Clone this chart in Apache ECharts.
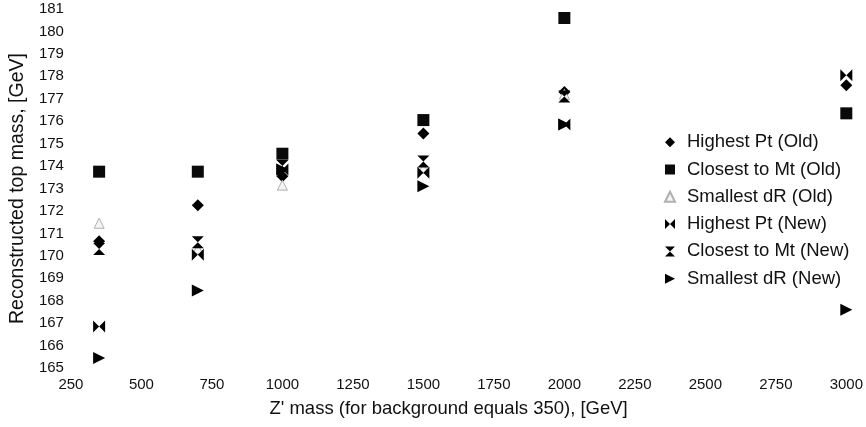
<!DOCTYPE html>
<html>
<head>
<meta charset="utf-8">
<script src="https://cdn.jsdelivr.net/npm/echarts@6/dist/echarts.min.js"></script>
<style>
html,body{margin:0;padding:0;background:#fff;}
#chart{width:866px;height:427px;}
</style>
</head>
<body>
<div id="chart"></div>
<script>
// Z' mass values (x)
var zMass = [350, 700, 1000, 1500, 2000, 3000];
// Reconstructed top mass per method (null = not visible in the picture)
var highestPtOld   = [170.65, 172.25, 173.55, 175.45, 177.3, 177.6];
var closestMtOld   = [173.75, 173.75, 174.55, 176.05, 180.6, 176.35];
var smallestDROld  = [171.45, 170.3, 173.15, 173.9, 177.2, null];
var highestPtNew   = [166.85, 170.05, 173.85, 173.7, 175.85, 178.05];
var closestMtNew   = [170.3, 170.6, 174.0, 174.2, 177.1, null];
var smallestDRNew  = [165.45, 168.45, 173.85, 173.1, 175.85, 167.6];

var seriesNames = ['Highest Pt (Old)', 'Closest to Mt (Old)', 'Smallest dR (Old)',
                   'Highest Pt (New)', 'Closest to Mt (New)', 'Smallest dR (New)'];

function pairs(arr){
  var out = [];
  zMass.forEach(function(x,i){ if (arr[i] !== null) out.push([x, arr[i]]); });
  return out;
}

var BOWTIE = 'path://M0,0 L5,5 L0,10 Z M10,0 L5,5 L10,10 Z';
var HOURGLASS = 'path://M0,0 L10,0 L5,5 Z M0,10 L10,10 L5,5 Z';
var RTRI = 'path://M0,0 L10,5 L0,10 Z';

var chart = echarts.init(document.getElementById('chart'));
var FONT = '"Liberation Sans", Arial, sans-serif';
chart.setOption({
  backgroundColor: '#fff',
  animation: false,
  grid: {left: 70, right: 18, top: 9, bottom: 59, containLabel: false},
  xAxis: {
    type: 'value', min: 250, max: 3000, interval: 250,
    axisLine: {show: false}, axisTick: {show: false}, splitLine: {show: false},
    axisLabel: {color: '#111', fontSize: 15, fontFamily: FONT, margin: 9,
                formatter: function(v){ return String(v); }},
    name: "Z' mass (for background equals 350), [GeV]",
    nameLocation: 'middle', nameGap: 31,
    nameTextStyle: {color: '#111', fontSize: 18.5, fontFamily: FONT, padding: [0, 20, 0, 0]}
  },
  yAxis: {
    type: 'value', min: 165, max: 181, interval: 1,
    axisLine: {show: false}, axisTick: {show: false}, splitLine: {show: false},
    axisLabel: {color: '#111', fontSize: 15, fontFamily: FONT, margin: 7},
    name: 'Reconstructed top mass, [GeV]',
    nameLocation: 'middle', nameGap: 41,
    nameTextStyle: {color: '#111', fontSize: 19.5, fontFamily: FONT}
  },
  legend: {
    orient: 'vertical', left: 659, top: 127.7,
    itemWidth: 10, itemHeight: 10, itemGap: 8.3,
    textStyle: {color: '#111', fontSize: 18.5, fontFamily: FONT, lineHeight: 18, padding: [0, 0, 0, 7]},
    data: seriesNames
  },
  series: [
    {name: seriesNames[0], type: 'scatter', data: pairs(highestPtOld), symbol: 'diamond', symbolSize: 12,
     itemStyle: {color: '#000', opacity: 1}},
    {name: seriesNames[1], type: 'scatter', data: pairs(closestMtOld), symbol: 'rect', symbolSize: 12,
     itemStyle: {color: '#0a0a0a', opacity: 1}},
    {name: seriesNames[2], type: 'scatter', data: pairs(smallestDROld), symbol: 'triangle', symbolSize: 10,
     itemStyle: {color: '#f4f4f4', borderColor: '#b0b0b0', borderWidth: 1, opacity: 1}},
    {name: seriesNames[3], type: 'scatter', data: pairs(highestPtNew), symbol: BOWTIE, symbolSize: 12,
     itemStyle: {color: '#000', opacity: 1}},
    {name: seriesNames[4], type: 'scatter', data: pairs(closestMtNew), symbol: HOURGLASS, symbolSize: 12,
     itemStyle: {color: '#000', opacity: 1}},
    {name: seriesNames[5], type: 'scatter', data: pairs(smallestDRNew), symbol: RTRI, symbolSize: 12,
     itemStyle: {color: '#000', opacity: 1}}
  ]
});
</script>
</body>
</html>
